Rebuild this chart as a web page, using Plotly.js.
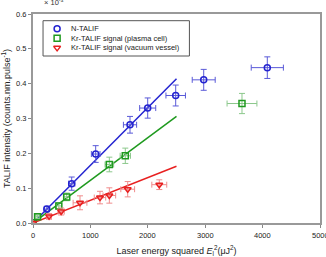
<!DOCTYPE html>
<html>
<head>
<meta charset="utf-8">
<script src="https://cdn.plot.ly/plotly-3.0.1.min.js"></script>
<style>html,body{margin:0;padding:0;background:#fff;}#chart{width:326px;height:257px;}</style>
</head>
<body>
<div id="chart"></div>
<script>
// N-TALIF
var nX  = [0, 240, 674, 1092, 1690, 1998, 2486, 2974, 4082];
var nY  = [0, 0.040, 0.113, 0.198, 0.282, 0.330, 0.366, 0.411, 0.446];
var nEX = [0, 40, 55, 75, 115, 140, 170, 200, 280];
var nEY = [0, 0.008, 0.019, 0.024, 0.024, 0.029, 0.030, 0.030, 0.031];
// Kr-TALIF (plasma cell)
var pX  = [0, 80, 450, 587, 1330, 1608, 3641];
var pY  = [0, 0.018, 0.049, 0.075, 0.168, 0.193, 0.343];
var pEX = [0, 30, 45, 50, 75, 90, 260];
var pEY = [0, 0.005, 0.009, 0.011, 0.021, 0.022, 0.029];
// Kr-TALIF (vacuum vessel)
var vX  = [0, 280, 490, 819, 1167, 1330, 1650, 2200];
var vY  = [0, 0.019, 0.033, 0.058, 0.073, 0.079, 0.097, 0.110];
var vEX = [0, 40, 55, 120, 100, 110, 120, 130];
var vEY = [0, 0.008, 0.010, 0.020, 0.018, 0.022, 0.022, 0.014];
// linear fits
var fitX = [0, 2500];
var fitN = [0, 0.414];
var fitP = [0, 0.306];
var fitV = [0, 0.163];
// axes
var xTicks = [0, 1000, 2000, 3000, 4000, 5000];
var yTicks = [0, 0.1, 0.2, 0.3, 0.4, 0.5, 0.6];
var xRange = [0, 5000], yRange = [0, 0.6];
// legend
var seriesNames = ['N-TALIF', 'Kr-TALIF signal (plasma cell)', 'Kr-TALIF signal (vacuum vessel)'];
var seriesSymbols = ['circle-open', 'square-open', 'triangle-down-open'];
var seriesColors = ['#2323d0', '#1f9a1f', '#e82020'];
var errColors = ['#5a5ad8', '#8cc88c', '#f08c8c'];

function pts(x, y, ex, ey, i) {
  return {x: x, y: y, name: seriesNames[i], type: 'scatter', mode: 'markers', showlegend: false,
    marker: {symbol: seriesSymbols[i], size: 6, color: seriesColors[i], line: {width: 1.5}},
    error_x: {type: 'data', array: ex, visible: true, color: errColors[i], thickness: 1, width: 3},
    error_y: {type: 'data', array: ey, visible: true, color: errColors[i], thickness: 1, width: 3}};
}
function fit(y, col) {
  return {x: fitX, y: y, type: 'scatter', mode: 'lines', showlegend: false,
    line: {color: col, width: 1.5}};
}

// compact legend geometry (fractions of the plot area)
var legX0 = 0.035, legX1 = 0.545, legTop = 0.968, legBot = 0.799;
var rowY0 = 0.929, rowStep = 0.0455, keyX = 0.084, txtX = 0.127;
var keyFy = seriesNames.map(function (_, i) { return rowY0 - i * rowStep; });
var keyXs = seriesNames.map(function () { return xRange[0] + keyX * (xRange[1] - xRange[0]); });
var keyYs = keyFy.map(function (f) { return yRange[0] + f * (yRange[1] - yRange[0]); });

var data = [
  fit(fitN, seriesColors[0]), fit(fitP, seriesColors[1]), fit(fitV, seriesColors[2]),
  pts(nX, nY, nEX, nEY, 0),
  pts(pX, pY, pEX, pEY, 1),
  pts(vX, vY, vEX, vEY, 2),
  {x: keyXs, y: keyYs, type: 'scatter', mode: 'markers', showlegend: false,
   marker: {symbol: seriesSymbols, size: 6, color: seriesColors, line: {width: 1.5}}}
];

var tickFont = {size: 7.5, color: '#222'};
var annotations = seriesNames.map(function (n, i) {
  return {xref: 'paper', yref: 'paper', x: txtX, y: keyFy[i], xanchor: 'left', yanchor: 'middle',
    text: n, showarrow: false, font: {size: 7.5, color: '#222'}};
});
annotations.push({xref: 'paper', yref: 'paper', x: 0.03, y: 1.058, xanchor: 'left', yanchor: 'middle',
    text: '\u00d7 10<sup>-3</sup>', showarrow: false, font: {size: 7.5, color: '#333'}});
// tick labels
xTicks.forEach(function (v) {
  annotations.push({xref: 'x', yref: 'paper', x: v, y: 0, yshift: -6, xanchor: 'center', yanchor: 'top',
    text: String(v), showarrow: false, font: tickFont});
});
yTicks.forEach(function (v) {
  annotations.push({xref: 'paper', yref: 'y', x: 0, y: v, xshift: -5, xanchor: 'right', yanchor: 'middle',
    text: v.toFixed(1), showarrow: false, font: tickFont});
});

var layout = {
  width: 326, height: 257,
  margin: {l: 33, r: 6, t: 14, b: 34, pad: 0},
  paper_bgcolor: '#fff', plot_bgcolor: '#fff',
  font: {family: 'Liberation Sans, Arial, sans-serif', size: 8, color: '#222'},
  showlegend: false,
  xaxis: {range: xRange, tickmode: 'array', tickvals: xTicks, ticks: 'outside', ticklen: 3,
    tickcolor: '#888', showline: true, linecolor: '#999', linewidth: 1.5, mirror: true,
    showgrid: false, zeroline: false, showticklabels: false,
    title: {text: 'Laser energy squared <i>E</i><sub>l</sub><sup>2</sup>(\u03bcJ<sup>2</sup>)', font: {size: 9}, standoff: 21}},
  yaxis: {range: yRange, tickmode: 'array', tickvals: yTicks, ticks: 'outside', ticklen: 3,
    tickcolor: '#888', showline: true, linecolor: '#999', linewidth: 1.5, mirror: true,
    showgrid: false, zeroline: false, showticklabels: false,
    title: {text: 'TALIF intensity (counts.nm.pulse<sup>-1</sup>)', font: {size: 9}, standoff: 17}},
  shapes: [{type: 'rect', xref: 'paper', yref: 'paper', x0: legX0, x1: legX1, y0: legBot, y1: legTop,
    line: {color: '#555', width: 1}, fillcolor: 'rgba(0,0,0,0)', layer: 'above'}],
  annotations: annotations
};
Plotly.newPlot('chart', data, layout, {displayModeBar: false});
</script>
</body>
</html>
